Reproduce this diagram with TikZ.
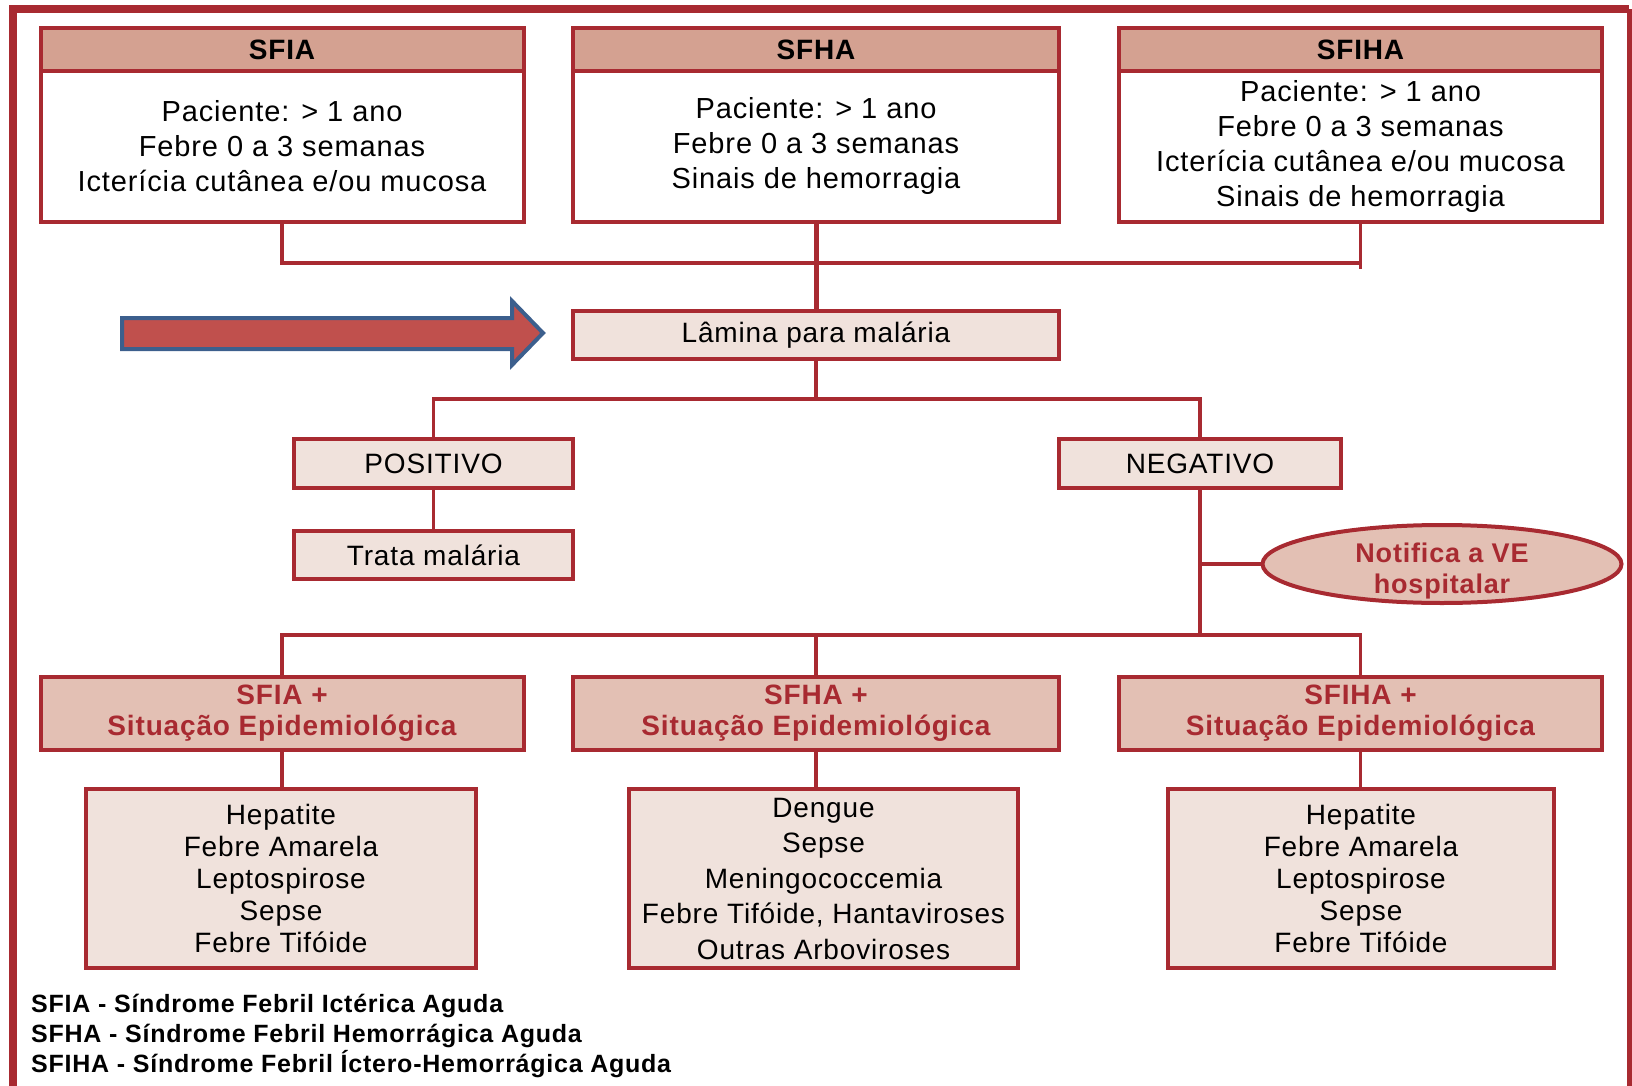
\documentclass[tikz,border=0pt]{standalone}
\usepackage{fontspec}
\setmainfont{Liberation Sans}[LetterSpace=3]
\usetikzlibrary{shapes.geometric}
\definecolor{fr}{HTML}{A82A31}
\definecolor{hd}{HTML}{D4A191}
\definecolor{lt}{HTML}{F0E2DC}
\definecolor{md}{HTML}{E3C0B4}
\definecolor{arf}{HTML}{C0504D}
\definecolor{arb}{HTML}{3C5F8D}
\begin{document}
\begin{tikzpicture}[x=1pt,y=-1pt,
 box/.style={draw=fr, line width=4pt, inner sep=0pt, align=center, anchor=center},
 hdr/.style={box, fill=hd, font=\fontsize{28}{30}\selectfont\bfseries},
 bodyb/.style={box, fill=white, font=\fontsize{29}{35}\selectfont},
 lbox/.style={box, fill=lt, font=\fontsize{28}{32}\selectfont},
 sbox/.style={box, fill=md, text=fr, font=\fontsize{28}{31}\selectfont\bfseries},
 conn/.style={draw=fr, line width=3.5pt},
]
\useasboundingbox (0,0) rectangle (1632,1086);
% outer frame
\draw[fr, line width=8pt] (12.5,1090) -- (12.5,9.5) -- (1629,9.5);
\draw[fr, line width=5pt] (1629,9.5) -- (1629,1090);

% top boxes
\node[hdr, minimum width=483, minimum height=43] (h1) at (282,49.5) {SFIA};
\node[bodyb, minimum width=483, minimum height=151] (t1) at (282,146.5) {Paciente: > 1 ano\\Febre 0 a 3 semanas\\Icterícia cutânea e/ou mucosa};
\node[hdr, minimum width=486, minimum height=43] (h2) at (816,49.5) {SFHA};
\node[bodyb, minimum width=486, minimum height=151] (t2) at (816,146.5) {Paciente: > 1 ano\\Febre 0 a 3 semanas\\Sinais de hemorragia};
\node[hdr, minimum width=483, minimum height=43] (h3) at (1360.5,49.5) {SFIHA};
\node[bodyb, minimum width=483, minimum height=151] (t3) at (1360.5,146.5) {Paciente: > 1 ano\\Febre 0 a 3 semanas\\Icterícia cutânea e/ou mucosa\\Sinais de hemorragia};

% lamina
\node[lbox, minimum width=486, minimum height=48] (lam) at (816,335) {Lâmina para malária};
% big arrow
\draw[draw=arb, fill=arf, line width=4pt] (122,318) -- (512,318) -- (512,301) -- (543,333) -- (512,365) -- (512,349) -- (122,349) -- cycle;

% positive / negative
\node[lbox, minimum width=279, minimum height=49] (pos) at (433.5,463.5) {POSITIVO};
\node[lbox, minimum width=282, minimum height=49] (neg) at (1200,463.5) {NEGATIVO};
\node[lbox, minimum width=279, minimum height=48] (trata) at (433.5,555) {Trata malária};
\node[ellipse, draw=fr, line width=4pt, fill=md, inner xsep=0pt, inner ysep=-8pt, minimum width=359, minimum height=78, align=center, text=fr, font=\fontsize{27}{31}\selectfont\bfseries] (ell) at (1442,564) {\rule{0pt}{34pt}Notifica a VE\\hospitalar};

% situation boxes
\node[sbox, minimum width=483, minimum height=73] (s1) at (282,713.5) {SFIA +\\Situação Epidemiológica};
\node[sbox, minimum width=486, minimum height=73] (s2) at (816,713.5) {SFHA +\\Situação Epidemiológica};
\node[sbox, minimum width=483, minimum height=73] (s3) at (1360.5,713.5) {SFIHA +\\Situação Epidemiológica};

% disease boxes
\node[lbox, minimum width=390, minimum height=179] (d1) at (281,878.5) {Hepatite\\Febre Amarela\\Leptospirose\\Sepse\\Febre Tifóide};
\node[lbox, minimum width=389, minimum height=179, font=\fontsize{28}{35.5}\selectfont] (d2) at (823.5,878.5) {Dengue\\Sepse\\Meningococcemia\\Febre Tifóide, Hantaviroses\\Outras Arboviroses};
\node[lbox, minimum width=386, minimum height=179] (d3) at (1361,878.5) {Hepatite\\Febre Amarela\\Leptospirose\\Sepse\\Febre Tifóide};

% legend
\node[anchor=west, align=left, inner sep=0pt, font=\fontsize{25}{30}\selectfont\bfseries] (leg) at (31,1036) {SFIA - Síndrome Febril Ictérica Aguda\\SFHA - Síndrome Febril Hemorrágica Aguda\\SFIHA - Síndrome Febril Íctero-Hemorrágica Aguda};

% connectors
\coordinate (j1) at (816,263);
\draw[conn] (t1.south) |- (j1) -| (t3.south);
\draw[conn] (t3.south) -- ++(0,45);
\draw[conn, line width=5pt] (t2.south) -- (lam.north);
\coordinate (j2) at (816,399);
\draw[conn] (lam.south) -- (j2);
\draw[conn] (pos.north) |- (j2) -| (neg.north);
\draw[conn] (pos.south) -- (trata.north);
\coordinate (j3) at (1200,635);
\draw[conn] (neg.south) -- (j3);
\draw[conn] (ell.west) -- (ell.west -| neg.south);
\draw[conn] (s1.north) |- (j3) -| (s3.north);
\draw[conn] (s2.north) -- (s2.north |- j3);
\draw[conn] (s1.south) -- (s1.south |- d1.north);
\draw[conn] (s2.south) -- (s2.south |- d2.north);
\draw[conn] (s3.south) -- (s3.south |- d3.north);
\end{tikzpicture}
\end{document}
